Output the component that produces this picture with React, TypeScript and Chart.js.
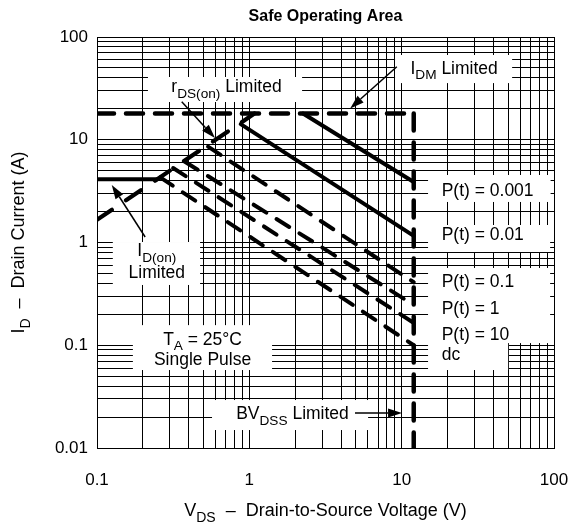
import React, { useEffect, useRef } from 'react';
import { Chart, registerables } from 'chart.js';

Chart.register(...registerables);

const FONT = '"Liberation Sans", Arial, Helvetica, sans-serif';

// ---- axes ----
const xMajor = [0.1, 1, 10, 100];
const yMajor = [0.01, 0.1, 1, 10, 100];
const xTickLabels = ['0.1', '1', '10', '100'];
const yTickLabels = ['0.01', '0.1', '1', '10', '100'];
const minorSteps = [1, 2, 3, 4, 5, 6, 7, 8, 9];

// ---- limit lines ----
const idmLimit = 18;          // A
const bvdss = 12;             // V
const idOn = 4.12;            // A
const idOnEndV = 0.25;        // V
const rdsV = [0.1, 1.08];
const rdsI = [1.66, 18];

// ---- pulse lines (start on rDS / IDM boundary, end on BVDSS) ----
const pulseNames = ['P(t) = 0.001', 'P(t) = 0.01', 'P(t) = 0.1', 'P(t) = 1', 'P(t) = 10', 'dc'];
const pulseStartV = [2.25, 0.878, 0.536, 0.378, 0.316, 0.26];
const pulseStartI = [18, 14.2, 8.56, 6.11, 5.31, 4.3];
const pulseEndI = [3.88, 1.16, 0.41, 0.247, 0.165, 0.1];

// ---- label positions (data coordinates) ----
const pulseLabelV = 18.3;
const pulseLabelI = [3.24, 1.21, 0.427, 0.233, 0.1287, 0.0823];

const whiteBoxes = [
  { x1: 0.216, x2: 2.22, y1: 40.8, y2: 23.3 },
  { x1: 9.05, x2: 53.1, y1: 66.8, y2: 35.6 },
  { x1: 14.9, x2: 95, y1: 4.54, y2: 2.48 },
  { x1: 14.9, x2: 94.3, y1: 1.48, y2: 0.808 },
  { x1: 14.9, x2: 94.3, y1: 0.565, y2: 0.105 },
  { x1: 14.9, x2: 50, y1: 0.106, y2: 0.0574 },
  { x1: 0.127, x2: 0.475, y1: 1.011, y2: 0.386 },
  { x1: 0.172, x2: 1.41, y1: 0.157, y2: 0.0574 },
  { x1: 0.569, x2: 6.02, y1: 0.0293, y2: 0.01496 },
];

type Part = [string, number?];
const noteTexts: { x: number; y: number; align: string; parts: Part[] }[] = [
  { x: 0.708, y: 33.3, align: 'center', parts: [['r'], ['DS(on)', 1], [' Limited']] },
  { x: 22.1, y: 50.5, align: 'center', parts: [['I'], ['DM', 1], [' Limited']] },
  { x: 0.247, y: 0.845, align: 'center', parts: [['I'], ['D(on)', 1]] },
  { x: 0.247, y: 0.522, align: 'center', parts: [['Limited']] },
  { x: 0.493, y: 0.1163, align: 'center', parts: [['T'], ['A', 1], [' = 25°C']] },
  { x: 0.493, y: 0.0743, align: 'center', parts: [['Single Pulse']] },
  { x: 1.92, y: 0.0219, align: 'center', parts: [['BV'], ['DSS', 1], [' Limited']] },
];

const arrows = [
  { x1: 0.36, y1: 23.4, x2: 0.595, y2: 10.4 },
  { x1: 9.29, y1: 51.4, x2: 4.59, y2: 20.2 },
  { x1: 0.207, y1: 1.131, x2: 0.125, y2: 3.63 },
  { x1: 4.94, y1: 0.0219, x2: 10.06, y2: 0.0219 },
];

const chartTitle = 'Safe Operating Area';
const xTitle: Part[] = [['V'], ['DS', 1], ['  –  Drain-to-Source Voltage (V)']];
const yTitle: Part[] = [['I'], ['D', 1], ['  –  Drain Current (A)']];

function buildTicks(majors: number[]) {
  const vals: number[] = [];
  majors.forEach((d, i) => {
    if (i === majors.length - 1) {
      vals.push(d);
    } else {
      minorSteps.forEach((m) => vals.push(Number((d * m).toPrecision(6))));
    }
  });
  return vals;
}

function drawRich(ctx: CanvasRenderingContext2D, parts: Part[], px: number, py: number, size: number, align: string, weight = '') {
  const subSize = size * 0.78;
  const widths = parts.map(([t, sub]) => {
    ctx.font = `${weight}${sub ? subSize : size}px ${FONT}`;
    return ctx.measureText(t).width;
  });
  const total = widths.reduce((a, b) => a + b, 0);
  let cx = align === 'left' ? px : align === 'center' ? px - total / 2 : px - total;
  const base = py + size * 0.36;
  ctx.textAlign = 'left';
  ctx.textBaseline = 'alphabetic';
  parts.forEach(([t, sub], i) => {
    ctx.font = `${weight}${sub ? subSize : size}px ${FONT}`;
    ctx.fillText(t, cx, base + (sub ? size * 0.3 : 0));
    cx += widths[i];
  });
}

function drawArrow(ctx: CanvasRenderingContext2D, x1: number, y1: number, x2: number, y2: number) {
  const ang = Math.atan2(y2 - y1, x2 - x1);
  const L = 14;
  const W = 4.5;
  const bx = x2 - L * Math.cos(ang);
  const by = y2 - L * Math.sin(ang);
  ctx.beginPath();
  ctx.moveTo(x1, y1);
  ctx.lineTo(bx, by);
  ctx.lineWidth = 1.5;
  ctx.stroke();
  ctx.beginPath();
  ctx.moveTo(x2, y2);
  ctx.lineTo(bx + W * Math.sin(ang), by - W * Math.cos(ang));
  ctx.lineTo(bx - W * Math.sin(ang), by + W * Math.cos(ang));
  ctx.closePath();
  ctx.fill();
}

const annotPlugin = {
  id: 'soaAnnotations',
  beforeDatasetsDraw(chart: any) {
    const { ctx, scales } = chart;
    const x = scales.x;
    const y = scales.y;
    ctx.save();
    ctx.fillStyle = '#fff';
    whiteBoxes.forEach((b) => {
      const l = x.getPixelForValue(b.x1);
      const r = x.getPixelForValue(b.x2);
      const t = y.getPixelForValue(b.y1);
      const bt = y.getPixelForValue(b.y2);
      ctx.fillRect(Math.min(l, r), Math.min(t, bt), Math.abs(r - l), Math.abs(bt - t));
    });
    ctx.restore();
  },
  afterDatasetsDraw(chart: any) {
    const { ctx, scales, chartArea } = chart;
    const x = scales.x;
    const y = scales.y;
    ctx.save();
    ctx.fillStyle = '#000';
    ctx.strokeStyle = '#000';
    noteTexts.forEach((n) => {
      drawRich(ctx, n.parts, x.getPixelForValue(n.x), y.getPixelForValue(n.y), 17.5, n.align);
    });
    pulseNames.forEach((name, i) => {
      drawRich(ctx, [[name]], x.getPixelForValue(pulseLabelV), y.getPixelForValue(pulseLabelI[i]), 17.5, 'left');
    });
    arrows.forEach((a) => {
      drawArrow(ctx, x.getPixelForValue(a.x1), y.getPixelForValue(a.y1), x.getPixelForValue(a.x2), y.getPixelForValue(a.y2));
    });
    // titles
    const cx = (chartArea.left + chartArea.right) / 2;
    const cy = (chartArea.top + chartArea.bottom) / 2;
    drawRich(ctx, [[chartTitle]], cx, 15, 16, 'center', 'bold ');
    drawRich(ctx, xTitle, cx, chartArea.bottom + 62, 18, 'center');
    ctx.translate(18, cy);
    ctx.rotate(-Math.PI / 2);
    drawRich(ctx, yTitle, 0, 0, 18, 'center');
    ctx.restore();
  },
};

function seg(x1: number, y1: number, x2: number, y2: number, dashed: boolean, width: number, dash: number[]) {
  return {
    data: [{ x: x1, y: y1 }, { x: x2, y: y2 }],
    showLine: true,
    borderColor: '#000',
    backgroundColor: '#000',
    borderWidth: width,
    borderDash: dashed ? dash : [],
    borderCapStyle: 'round',
    borderJoinStyle: 'round',
    pointRadius: 0,
    pointHoverRadius: 0,
    fill: false,
    tension: 0,
  };
}

export default function App() {
  const ref = useRef<HTMLCanvasElement>(null);

  useEffect(() => {
    const canvas = ref.current;
    if (!canvas) return;
    const boundDash = [17, 12];
    const pulseDash = [15, 12];
    const datasets: any[] = [
      seg(xMajor[0], idmLimit, bvdss, idmLimit, true, 4.5, boundDash),
      seg(bvdss, idmLimit, bvdss, yMajor[0], true, 4.5, boundDash),
      seg(rdsV[0], rdsI[0], rdsV[1], rdsI[1], true, 4.2, [18, 17]),
      seg(xMajor[0], idOn, idOnEndV, idOn, false, 4, []),
    ];
    pulseNames.forEach((_, i) => {
      datasets.push(seg(pulseStartV[i], pulseStartI[i], bvdss, pulseEndI[i], i >= 2, 4, pulseDash));
    });

    const xTicks = buildTicks(xMajor);
    const yTicks = buildTicks(yMajor);

    const chart = new Chart(canvas, {
      type: 'scatter',
      data: { datasets },
      options: {
        animation: false,
        responsive: false,
        devicePixelRatio: 1,
        events: [],
        layout: { padding: { top: 37, right: 22, left: 0, bottom: 0 } },
        plugins: { legend: { display: false }, tooltip: { enabled: false }, title: { display: false } },
        scales: {
          x: {
            type: 'logarithmic',
            min: xMajor[0],
            max: xMajor[xMajor.length - 1],
            afterBuildTicks: (s: any) => { s.ticks = xTicks.map((v) => ({ value: v })); },
            afterFit: (s: any) => { s.height = 75; s.paddingLeft = 0; s.paddingRight = 0; },
            grid: { color: '#000', lineWidth: 1, drawTicks: false },
            border: { display: true, color: '#000', width: 1 },
            ticks: {
              autoSkip: false,
              maxRotation: 0,
              padding: 22,
              color: '#000',
              font: { family: FONT, size: 17 },
              callback: (v: any) => {
                const i = xMajor.findIndex((m) => Math.abs(m - Number(v)) < m * 1e-6);
                return i >= 0 ? xTickLabels[i] : '';
              },
            },
          },
          y: {
            type: 'logarithmic',
            min: yMajor[0],
            max: yMajor[yMajor.length - 1],
            afterBuildTicks: (s: any) => { s.ticks = yTicks.map((v) => ({ value: v })); },
            afterFit: (s: any) => { s.width = 97; s.paddingTop = 0; s.paddingBottom = 0; },
            grid: { color: '#000', lineWidth: 1, drawTicks: false },
            border: { display: true, color: '#000', width: 1 },
            ticks: {
              autoSkip: false,
              padding: 9,
              color: '#000',
              font: { family: FONT, size: 17 },
              callback: (v: any) => {
                const i = yMajor.findIndex((m) => Math.abs(m - Number(v)) < m * 1e-6);
                return i >= 0 ? yTickLabels[i] : '';
              },
            },
          },
        },
      } as any,
      plugins: [annotPlugin],
    });
    return () => chart.destroy();
  }, []);

  return (
    <div style={{ position: 'absolute', left: 0, top: 0, width: 576, height: 523, background: '#fff' }}>
      <canvas ref={ref} width={576} height={523} style={{ display: 'block', width: 576, height: 523 }} />
    </div>
  );
}
